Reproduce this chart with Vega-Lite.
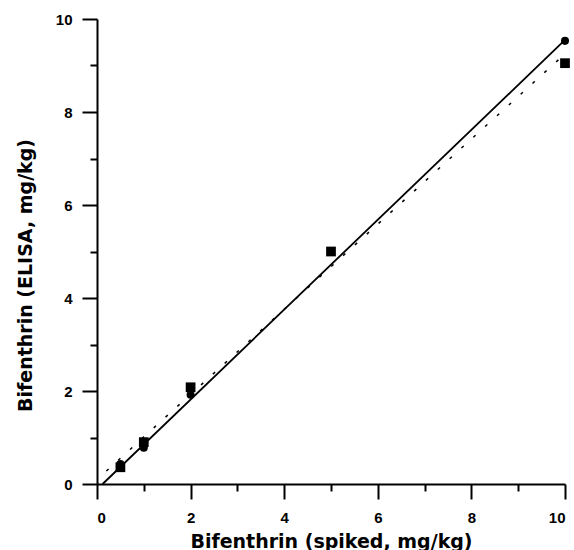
{
  "$schema": "https://vega.github.io/schema/vega-lite/v6.json",
  "width": 468,
  "height": 465,
  "autosize": "none",
  "padding": {"left": 97, "top": 19, "right": 9, "bottom": 66},
  "background": "white",
  "config": {
    "view": {"stroke": null},
    "axis": {
      "labelFont": "Liberation Sans", "labelFontWeight": "bold", "labelFontSize": 15, "labelColor": "black",
      "titleFont": "DejaVu Sans", "titleFontWeight": "bold", "titleFontSize": 19, "titleColor": "black",
      "domainColor": "black", "tickColor": "black", "domainWidth": 2, "tickWidth": 2, "grid": false
    }
  },
  "resolve": {"axis": {"x": "independent", "y": "independent"}},
  "layer": [
    {
      "data": {"values": [{"x": 0.12, "y": 0}, {"x": 10, "y": 9.55}]},
      "mark": {"type": "line", "color": "black", "strokeWidth": 1.8},
      "encoding": {
        "x": {"field": "x", "type": "quantitative", "scale": {"domain": [0, 10], "nice": false},
              "axis": {"orient": "bottom", "values": [1, 3, 5, 7, 9], "tickSize": 7, "labels": false, "domain": false, "title": null}},
        "y": {"field": "y", "type": "quantitative", "scale": {"domain": [0, 10], "nice": false},
              "axis": {"orient": "left", "values": [1, 3, 5, 7, 9], "tickSize": 7, "labels": false, "domain": false, "title": null}}
      }
    },
    {
      "data": {"values": [{"x": 0.2, "y": 0.28}, {"x": 10, "y": 9.25}]},
      "mark": {"type": "line", "color": "black", "strokeWidth": 1.5, "strokeDash": [3, 13]},
      "encoding": {
        "x": {"field": "x", "type": "quantitative", "axis": null},
        "y": {"field": "y", "type": "quantitative", "axis": null}
      }
    },
    {
      "data": {"values": [
        {"x": 0.5, "y": 0.43}, {"x": 1, "y": 0.78}, {"x": 2, "y": 1.92}, {"x": 5, "y": 5.0}, {"x": 10, "y": 9.53}
      ]},
      "mark": {"type": "point", "shape": "circle", "filled": true, "color": "black", "opacity": 1, "size": 65},
      "encoding": {
        "x": {"field": "x", "type": "quantitative", "axis": null},
        "y": {"field": "y", "type": "quantitative", "axis": null}
      }
    },
    {
      "data": {"values": [
        {"x": 0.5, "y": 0.36}, {"x": 1, "y": 0.9}, {"x": 2, "y": 2.08}, {"x": 5, "y": 5.0}, {"x": 10, "y": 9.05}
      ]},
      "mark": {"type": "point", "shape": "square", "filled": true, "color": "black", "opacity": 1, "size": 95},
      "encoding": {
        "x": {"field": "x", "type": "quantitative",
              "axis": {"orient": "bottom", "values": [0, 2, 4, 6, 8, 10], "tickSize": 15, "labelPadding": 23,
                       "labelBaseline": "alphabetic",
                       "title": "Bifenthrin (spiked, mg/kg)", "titleY": 63, "titleBaseline": "alphabetic"}},
        "y": {"field": "y", "type": "quantitative",
              "axis": {"orient": "left", "values": [0, 2, 4, 6, 8, 10], "tickSize": 15, "labelPadding": 10,
                       "title": "Bifenthrin (ELISA, mg/kg)", "titleX": -66, "titleY": 256, "titleBaseline": "alphabetic"}}
      }
    }
  ]
}
